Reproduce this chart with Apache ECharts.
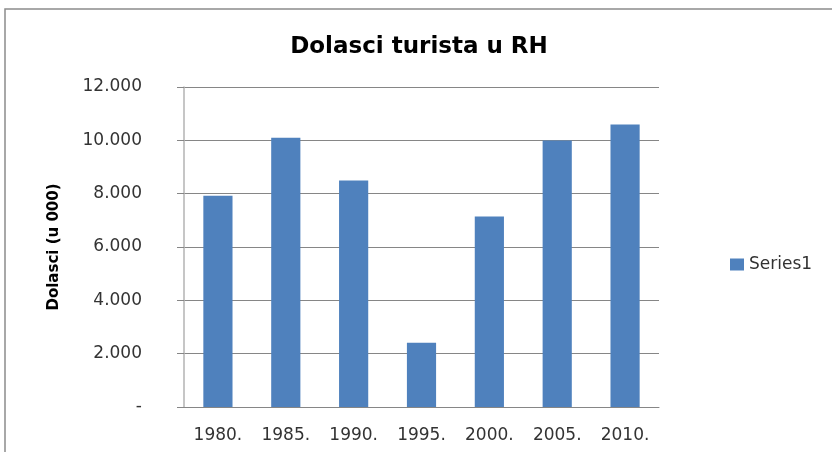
<!DOCTYPE html>
<html>
<head>
<meta charset="utf-8">
<title>Dolasci turista u RH</title>
<script src="https://cdn.jsdelivr.net/npm/echarts@6/dist/echarts.min.js"></script>
<style>
  html, body { margin: 0; padding: 0; background: #fff; }
  #chart { width: 832px; height: 452px; }
</style>
</head>
<body>
<div id="chart"></div>
<script>
const years = ["1980.", "1985.", "1990.", "1995.", "2000.", "2005.", "2010."];
const arrivals = [7920, 10100, 8490, 2410, 7140, 9990, 10590];
const seriesName = "Series1";

const BAR = "#4f81bd";
const GRID = "#868686";
const TEXT = "#333333";
const FONT = "DejaVu Sans";

// 12000 -> "12.000", 0 -> "-"
function fmt(v) {
  if (v === 0) return "-";
  return String(v).replace(/\B(?=(\d{3})+(?!\d))/g, ".");
}

const chart = echarts.init(document.getElementById("chart"));

chart.setOption({
  animation: false,
  textStyle: { fontFamily: FONT },
  graphic: [
    {
      type: "rect",
      shape: { x: 5, y: 9, width: 900, height: 500 },
      style: { fill: "none", stroke: "#8c8c8c", lineWidth: 1.5 },
      silent: true,
    },
  ],
  title: {
    text: "Dolasci turista u RH",
    left: 414,
    top: 31,
    textAlign: "center",
    textStyle: { fontFamily: FONT, fontSize: 23, fontWeight: "bold", color: "#000" },
  },
  legend: {
    data: [seriesName],
    icon: "rect",
    left: 730,
    top: 256,
    padding: 0,
    itemWidth: 14,
    itemHeight: 12,
    textStyle: { fontFamily: FONT, fontSize: 17, color: TEXT },
  },
  grid: { left: 184, right: 173, top: 87, bottom: 45 },
  xAxis: {
    type: "category",
    data: years,
    axisLine: { lineStyle: { color: GRID, width: 1 } },
    axisTick: { show: false },
    axisLabel: { color: TEXT, fontSize: 17, fontFamily: FONT, margin: 20 },
  },
  yAxis: {
    type: "value",
    min: 0,
    max: 12000,
    interval: 2000,
    name: "Dolasci (u 000)",
    nameLocation: "middle",
    nameGap: 122,
    nameTextStyle: { fontFamily: FONT, fontSize: 15, fontWeight: "bold", color: "#000" },
    axisLine: { show: true, lineStyle: { color: "#b3b3b3", width: 1.5 } },
    axisTick: { show: true, length: 7, lineStyle: { color: GRID } },
    axisLabel: { color: TEXT, fontSize: 17, fontFamily: FONT, margin: 42, formatter: fmt },
    splitLine: { lineStyle: { color: GRID, width: 1 } },
  },
  series: [
    {
      name: seriesName,
      type: "bar",
      data: arrivals,
      barWidth: "43%",
      itemStyle: { color: BAR },
    },
  ],
});
</script>
</body>
</html>
